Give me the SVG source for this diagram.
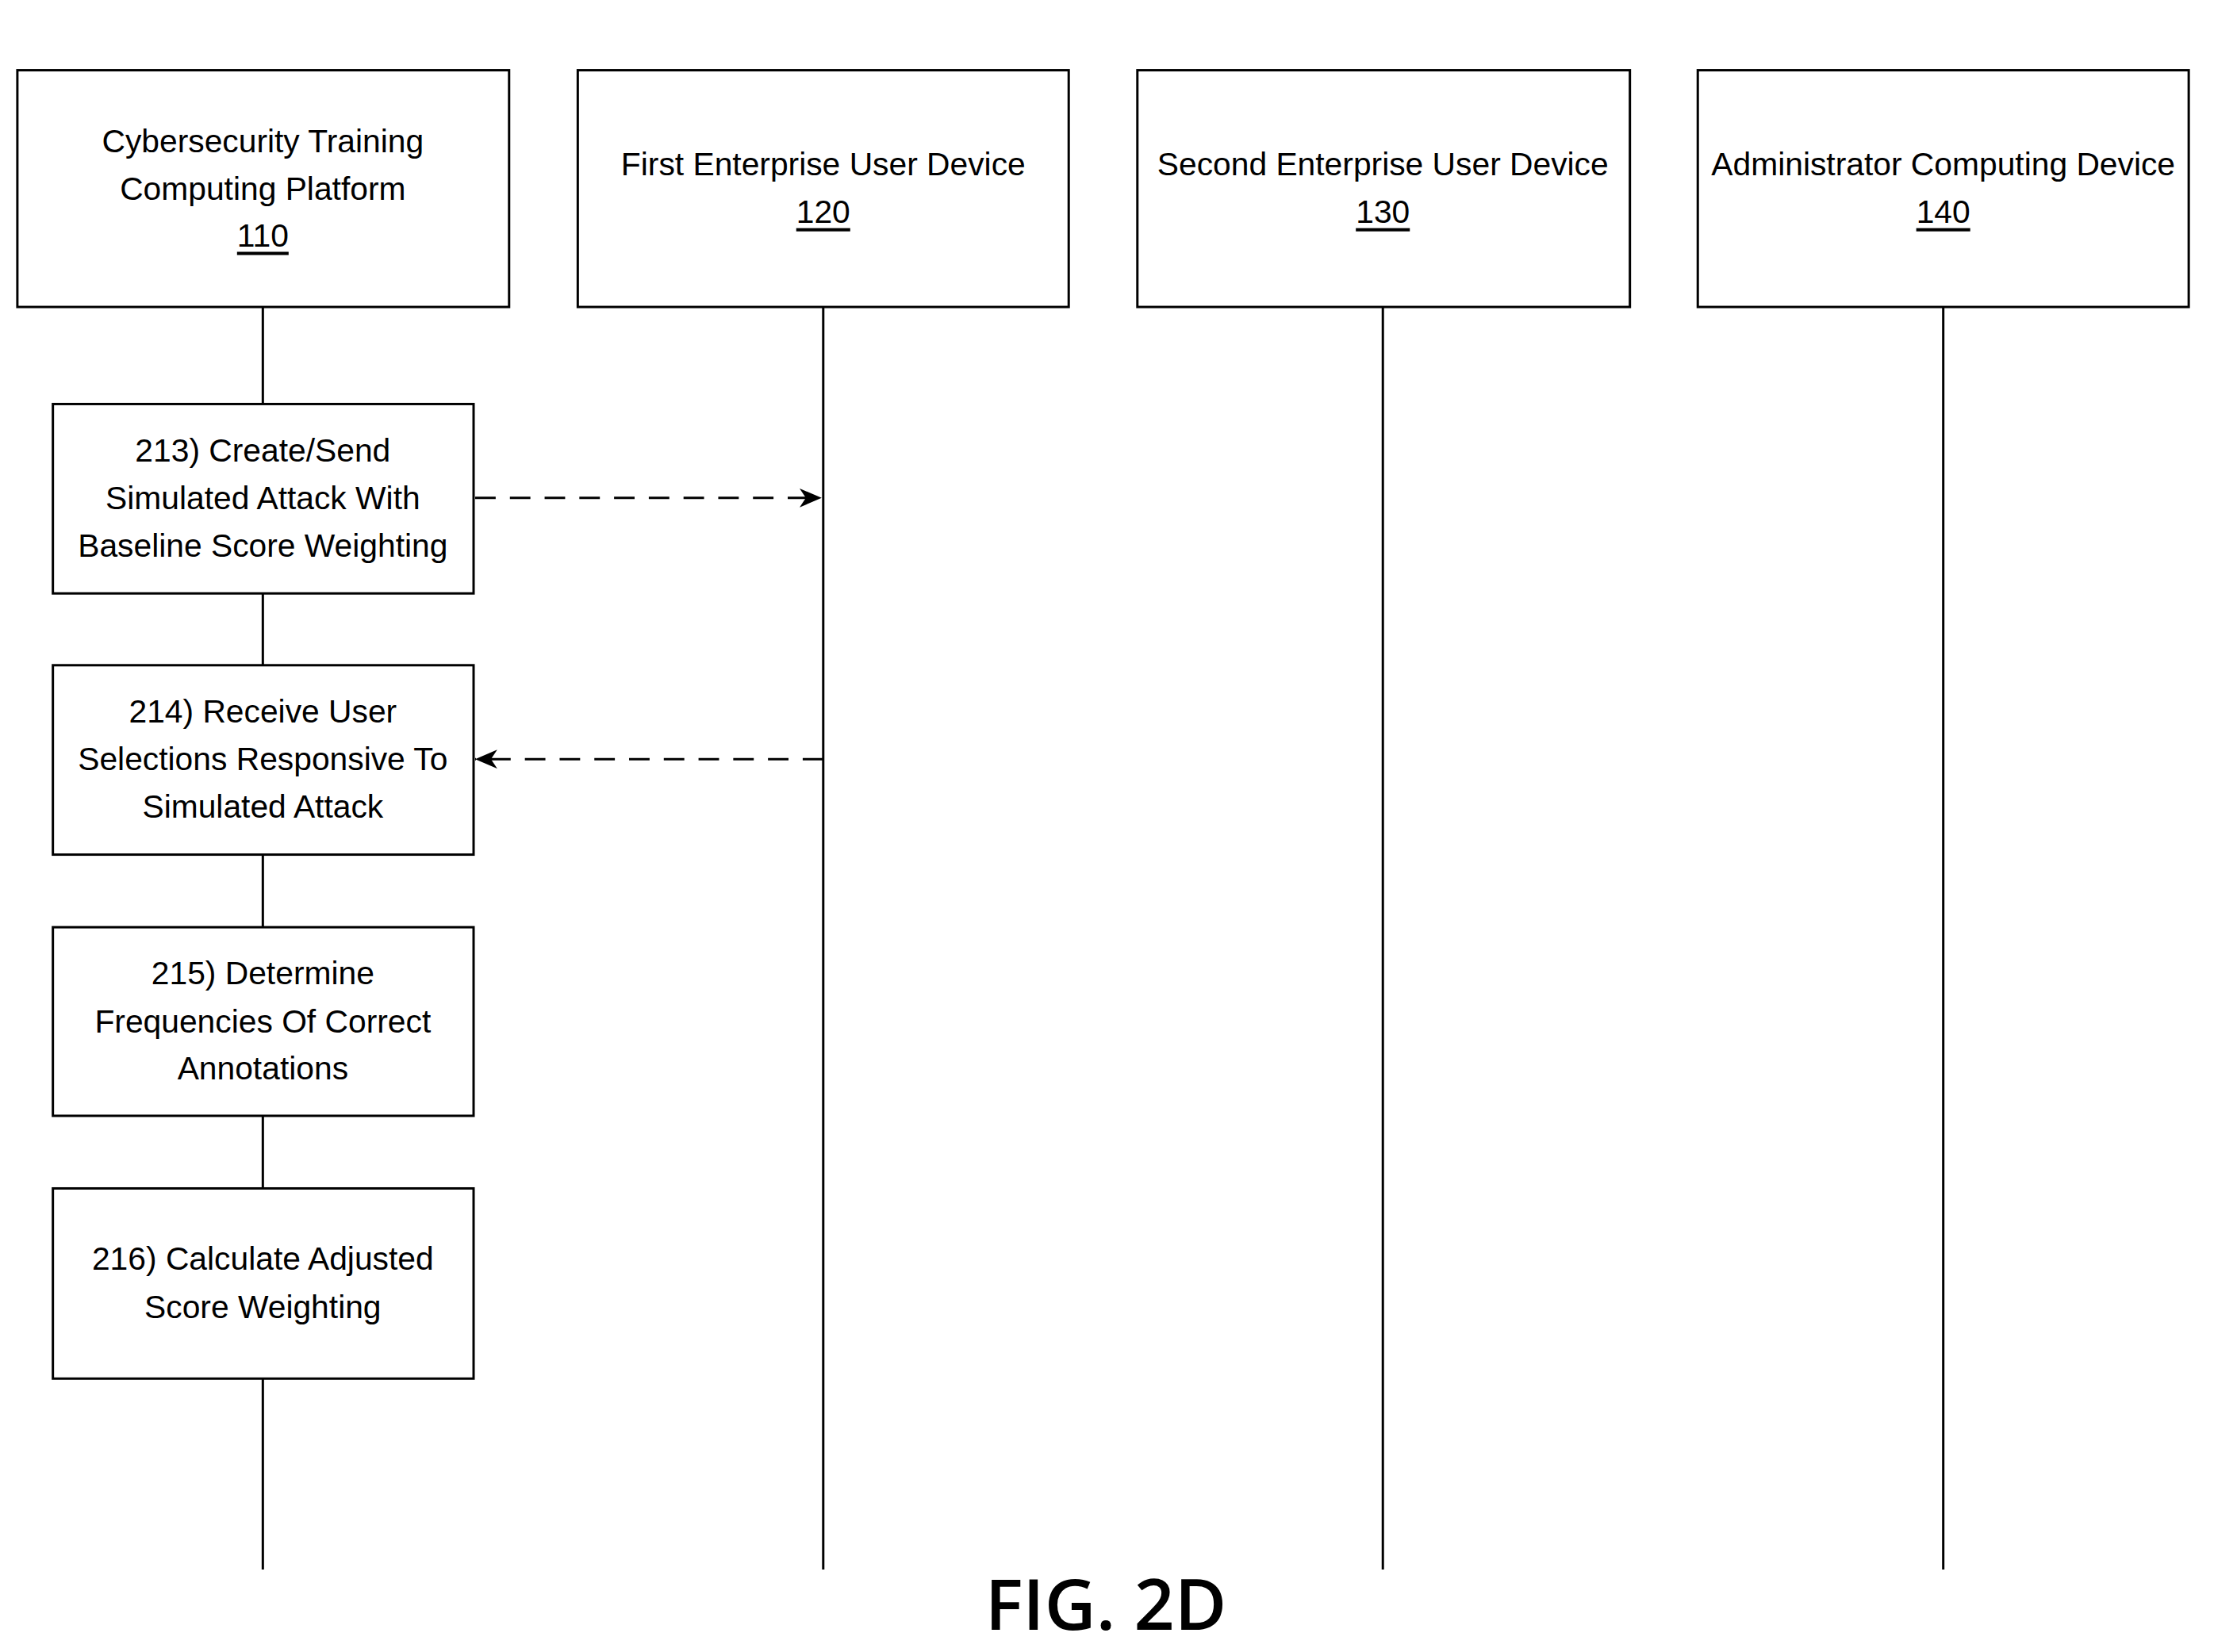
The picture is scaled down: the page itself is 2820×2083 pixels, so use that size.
<svg xmlns="http://www.w3.org/2000/svg" width="2820" height="2083" viewBox="0 0 2820 2083">
<style>
.b{fill:#fff;stroke:#000;stroke-width:3}
.l{stroke:#000;stroke-width:3;fill:none}
.d{stroke:#000;stroke-width:3;fill:none;stroke-dasharray:26 18}
text{font-family:"Liberation Sans",Arial,sans-serif;font-size:41px;text-anchor:middle;dominant-baseline:central;fill:#000}
.u{text-decoration:underline}
</style>
<defs><marker id="a2" markerWidth="30" markerHeight="24" refX="28" refY="12" orient="auto" markerUnits="userSpaceOnUse"><path d="M0,0 L28,12 L0,24 L8,12 z" fill="#000"/></marker></defs>
<g transform="scale(0.995)">
<g id="lifelines">
<line class="l" x1="333" y1="389" x2="333" y2="1989"/>
<line class="l" x1="1043" y1="389" x2="1043" y2="1989"/>
<line class="l" x1="1752" y1="389" x2="1752" y2="1989"/>
<line class="l" x1="2462" y1="389" x2="2462" y2="1989"/>
</g>
<g id="n110"><rect class="b" x="22" y="89" width="623" height="300"/><text x="333" y="179">Cybersecurity Training</text><text x="333" y="239">Computing Platform</text><text class="u" x="333" y="298">110</text></g>
<g id="n120"><rect class="b" x="732" y="89" width="622" height="300"/><text x="1043" y="208">First Enterprise User Device</text><text class="u" x="1043" y="268">120</text></g>
<g id="n130"><rect class="b" x="1441" y="89" width="624" height="300"/><text x="1752" y="208">Second Enterprise User Device</text><text class="u" x="1752" y="268">130</text></g>
<g id="n140"><rect class="b" x="2151" y="89" width="622" height="300"/><text x="2462" y="208">Administrator Computing Device</text><text class="u" x="2462" y="268">140</text></g>
<g id="s213"><rect class="b" x="67" y="512" width="533" height="240"/><text x="333" y="571">213) Create/Send</text><text x="333" y="631">Simulated Attack With</text><text x="333" y="691">Baseline Score Weighting</text></g>
<g id="s214"><rect class="b" x="67" y="843" width="533" height="240"/><text x="333" y="902">214) Receive User</text><text x="333" y="962">Selections Responsive To</text><text x="333" y="1022">Simulated Attack</text></g>
<g id="s215"><rect class="b" x="67" y="1175" width="533" height="239"/><text x="333" y="1233">215) Determine</text><text x="333" y="1294">Frequencies Of Correct</text><text x="333" y="1354">Annotations</text></g>
<g id="s216"><rect class="b" x="67" y="1506" width="533" height="241"/><text x="333" y="1595">216) Calculate Adjusted</text><text x="333" y="1656">Score Weighting</text></g>
<g id="connectors">
<line class="d" x1="602" y1="631" x2="1041" y2="631" marker-end="url(#a2)"/>
<line class="d" x1="1043" y1="962" x2="602" y2="962" marker-end="url(#a2)"/>
</g>
<text x="1401" y="2030" style="font-family:'Open Sans','DejaVu Sans',sans-serif;font-size:90px;font-weight:600">FIG. 2D</text>
</g>
</svg>
